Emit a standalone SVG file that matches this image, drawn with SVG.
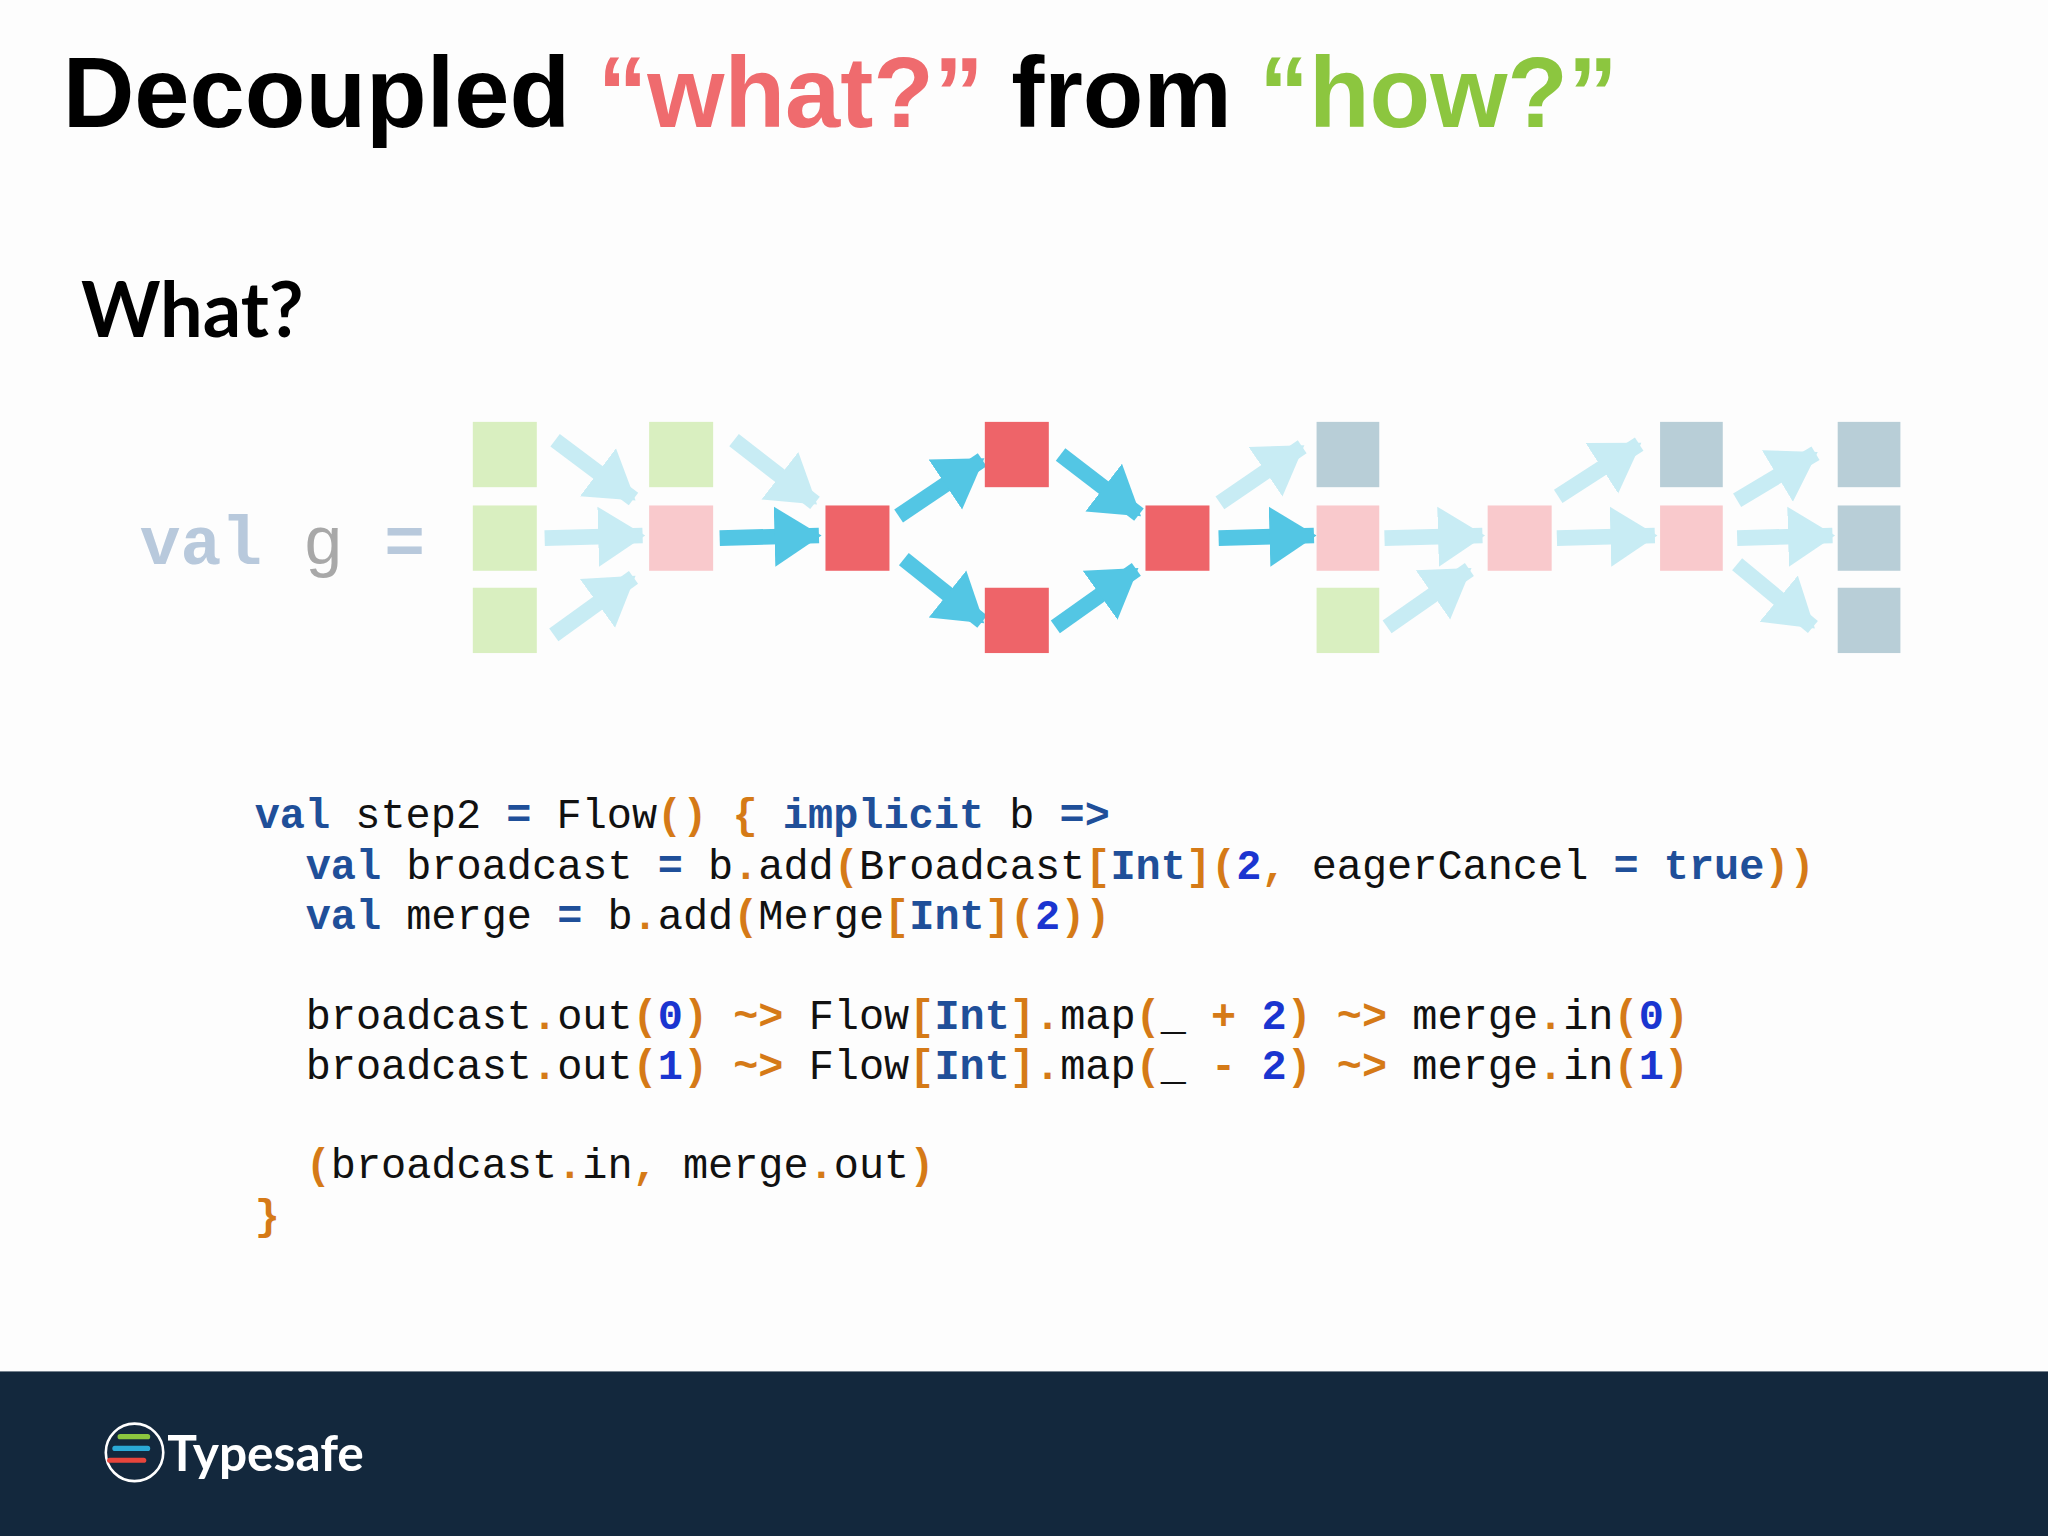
<svg xmlns="http://www.w3.org/2000/svg" width="2048" height="1536" viewBox="0 0 2048 1536">
<style>
.g{fill:#d9efc0}.p{fill:#f9c9cc}.r{fill:#ee6469}.s{fill:#b8ced7}
.b{stroke:#53c6e4;stroke-width:12;fill:none}
.l{stroke:#c8ecf4;stroke-width:12;fill:none}
.code{font-family:"Liberation Mono",monospace;font-size:32.1px;fill:#111}
.k{fill:#1f4f99;font-weight:bold}.o{fill:#d57a17;font-weight:bold}.n{fill:#1a35d0;font-weight:bold}
</style>
<defs>
<marker id="hb" markerUnits="userSpaceOnUse" markerWidth="44" markerHeight="50" refX="34" refY="25" orient="auto"><path d="M0,2 L36,25 L0,48 z" fill="#53c6e4"/></marker>
<marker id="hl" markerUnits="userSpaceOnUse" markerWidth="44" markerHeight="50" refX="34" refY="25" orient="auto"><path d="M0,2 L36,25 L0,48 z" fill="#c8ecf4"/></marker>
</defs>
<rect width="2048" height="1536" fill="#fdfdfd"/>
<g transform="scale(1.30612)">
<text x="48" y="97" font-family="Liberation Sans,Arial,sans-serif" font-weight="bold" font-size="76" fill="#000">Decoupled <tspan fill="#ef6b6e">“what?”</tspan> from <tspan fill="#8cc63f">“how?”</tspan></text>
<text x="62" y="258" font-family="Lato,Liberation Sans,sans-serif" font-weight="bold" font-size="58" fill="#000">What?</text>
<text x="107" y="432" font-family="Liberation Mono,monospace" font-weight="bold" font-size="52" fill="#b8c9dc">val <tspan fill="#a8a8a8" font-weight="normal">g</tspan> =</text>
<g id="connectors">
<line class="l" x1="425" y1="337" x2="485" y2="382" marker-end="url(#hl)"/>
<line class="l" x1="417" y1="412" x2="492" y2="410" marker-end="url(#hl)"/>
<line class="l" x1="424" y1="486" x2="485" y2="442" marker-end="url(#hl)"/>
<line class="l" x1="562" y1="337" x2="624" y2="385" marker-end="url(#hl)"/>
<line class="b" x1="551" y1="412" x2="627" y2="410" marker-end="url(#hb)"/>
<line class="b" x1="688" y1="395" x2="752" y2="352" marker-end="url(#hb)"/>
<line class="b" x1="692" y1="428" x2="752" y2="476" marker-end="url(#hb)"/>
<line class="b" x1="812" y1="348" x2="872" y2="394" marker-end="url(#hb)"/>
<line class="b" x1="808" y1="480" x2="870" y2="436" marker-end="url(#hb)"/>
<line class="b" x1="933" y1="412" x2="1006" y2="410" marker-end="url(#hb)"/>
<line class="l" x1="934" y1="385" x2="997" y2="342" marker-end="url(#hl)"/>
<line class="l" x1="1060" y1="412" x2="1135" y2="410" marker-end="url(#hl)"/>
<line class="l" x1="1062" y1="480" x2="1125" y2="436" marker-end="url(#hl)"/>
<line class="l" x1="1192" y1="412" x2="1267" y2="410" marker-end="url(#hl)"/>
<line class="l" x1="1193" y1="380" x2="1255" y2="340" marker-end="url(#hl)"/>
<line class="l" x1="1330" y1="383" x2="1390" y2="347" marker-end="url(#hl)"/>
<line class="l" x1="1330" y1="412" x2="1403" y2="410" marker-end="url(#hl)"/>
<line class="l" x1="1330" y1="432" x2="1388" y2="480" marker-end="url(#hl)"/>
</g>
<g id="c1"><rect class="g" x="362" y="323" width="49" height="50"/><rect class="g" x="362" y="387" width="49" height="50"/><rect class="g" x="362" y="450" width="49" height="50"/></g>
<g id="c2"><rect class="g" x="497" y="323" width="49" height="50"/><rect class="p" x="497" y="387" width="49" height="50"/></g>
<g id="c3"><rect class="r" x="632" y="387" width="49" height="50"/></g>
<g id="c4"><rect class="r" x="754" y="323" width="49" height="50"/><rect class="r" x="754" y="450" width="49" height="50"/></g>
<g id="c5"><rect class="r" x="877" y="387" width="49" height="50"/></g>
<g id="c6"><rect class="s" x="1008" y="323" width="48" height="50"/><rect class="p" x="1008" y="387" width="48" height="50"/><rect class="g" x="1008" y="450" width="48" height="50"/></g>
<g id="c7"><rect class="p" x="1139" y="387" width="49" height="50"/></g>
<g id="c8"><rect class="s" x="1271" y="323" width="48" height="50"/><rect class="p" x="1271" y="387" width="48" height="50"/></g>
<g id="c9"><rect class="s" x="1407" y="323" width="48" height="50"/><rect class="s" x="1407" y="387" width="48" height="50"/><rect class="s" x="1407" y="450" width="48" height="50"/></g>
<g class="code" xml:space="preserve">
<text x="195" y="634"><tspan class="k">val</tspan> step2 <tspan class="k">=</tspan> Flow<tspan class="o">()</tspan> <tspan class="o">{</tspan> <tspan class="k">implicit</tspan> b <tspan class="k">=&gt;</tspan></text>
<text x="234" y="673"><tspan class="k">val</tspan> broadcast <tspan class="k">=</tspan> b<tspan class="o">.</tspan>add<tspan class="o">(</tspan>Broadcast<tspan class="o">[</tspan><tspan class="k">Int</tspan><tspan class="o">](</tspan><tspan class="n">2</tspan><tspan class="o">,</tspan> eagerCancel <tspan class="k">=</tspan> <tspan class="k">true</tspan><tspan class="o">))</tspan></text>
<text x="234" y="711"><tspan class="k">val</tspan> merge <tspan class="k">=</tspan> b<tspan class="o">.</tspan>add<tspan class="o">(</tspan>Merge<tspan class="o">[</tspan><tspan class="k">Int</tspan><tspan class="o">](</tspan><tspan class="n">2</tspan><tspan class="o">))</tspan></text>
<text x="234" y="788">broadcast<tspan class="o">.</tspan>out<tspan class="o">(</tspan><tspan class="n">0</tspan><tspan class="o">)</tspan> <tspan class="o">~&gt;</tspan> Flow<tspan class="o">[</tspan><tspan class="k">Int</tspan><tspan class="o">].</tspan>map<tspan class="o">(</tspan>_ <tspan class="o">+</tspan> <tspan class="n">2</tspan><tspan class="o">)</tspan> <tspan class="o">~&gt;</tspan> merge<tspan class="o">.</tspan>in<tspan class="o">(</tspan><tspan class="n">0</tspan><tspan class="o">)</tspan></text>
<text x="234" y="826">broadcast<tspan class="o">.</tspan>out<tspan class="o">(</tspan><tspan class="n">1</tspan><tspan class="o">)</tspan> <tspan class="o">~&gt;</tspan> Flow<tspan class="o">[</tspan><tspan class="k">Int</tspan><tspan class="o">].</tspan>map<tspan class="o">(</tspan>_ <tspan class="o">-</tspan> <tspan class="n">2</tspan><tspan class="o">)</tspan> <tspan class="o">~&gt;</tspan> merge<tspan class="o">.</tspan>in<tspan class="o">(</tspan><tspan class="n">1</tspan><tspan class="o">)</tspan></text>
<text x="234" y="902"><tspan class="o">(</tspan>broadcast<tspan class="o">.</tspan>in<tspan class="o">,</tspan> merge<tspan class="o">.</tspan>out<tspan class="o">)</tspan></text>
<text x="195" y="941"><tspan class="o">}</tspan></text>
</g>
<rect x="0" y="1050" width="1568" height="130" fill="#13283d"/>
<g id="logo">
<circle cx="103" cy="1112" r="22" fill="none" stroke="#fff" stroke-width="2"/>
<line x1="92" y1="1100" x2="113" y2="1100" stroke="#8cc63f" stroke-width="4" stroke-linecap="round"/>
<line x1="88" y1="1109" x2="113" y2="1109" stroke="#2aa9d6" stroke-width="4" stroke-linecap="round"/>
<line x1="84" y1="1118" x2="110" y2="1118" stroke="#e8453c" stroke-width="4" stroke-linecap="round"/>
<text x="128" y="1126" font-family="Lato,Liberation Sans,sans-serif" font-weight="bold" font-size="38" fill="#fff">Typesafe</text>
</g>
</g>
</svg>
